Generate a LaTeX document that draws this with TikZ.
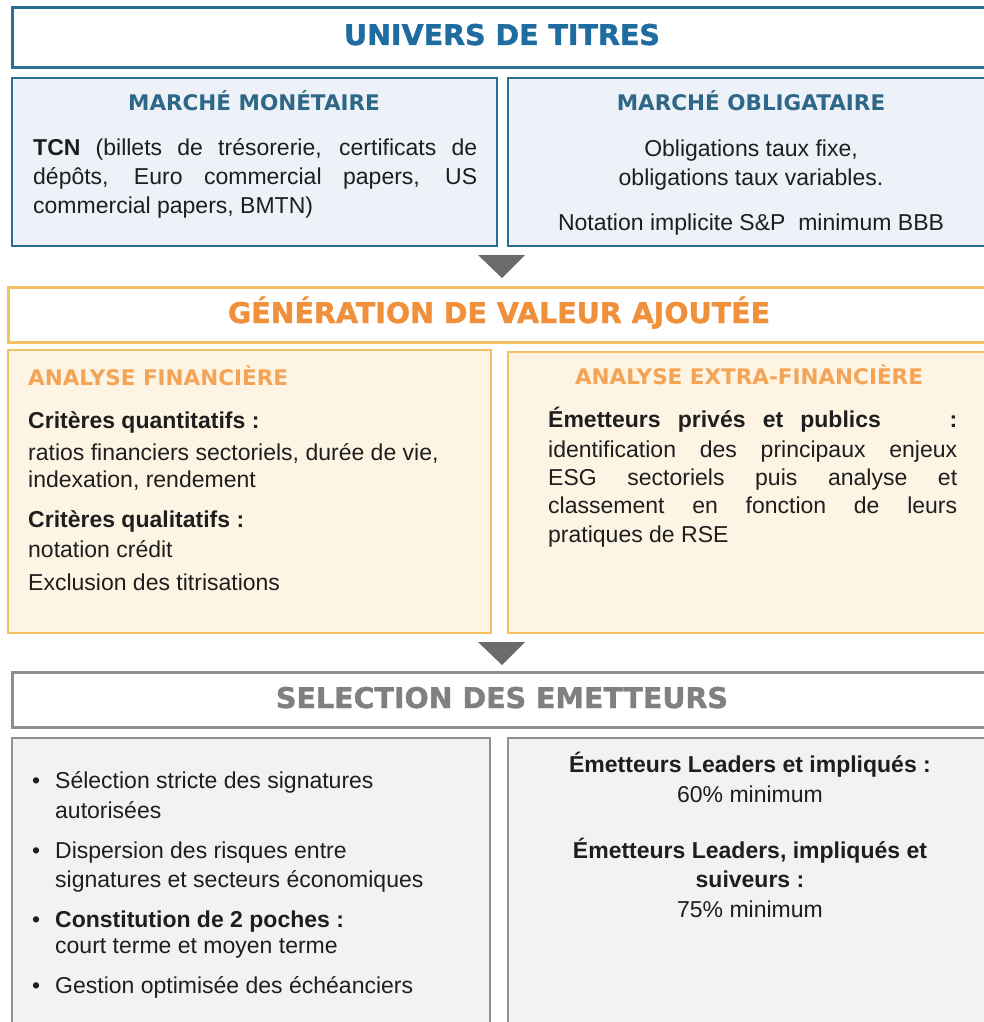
\documentclass[tikz,border=0pt]{standalone}
\usepackage{fontspec}
\setmainfont{Liberation Sans}
\newfontfamily\hdfont{DejaVu Sans}
\newfontfamily\ttlfont{DejaVu Sans}[BoldFeatures={FakeBold=1.4}]
\definecolor{bluebd}{HTML}{2A6F93}
\definecolor{bluefill}{HTML}{EDF2F8}
\definecolor{bluetitle}{HTML}{1F6CA0}
\definecolor{bluesub}{HTML}{2E6787}
\definecolor{orbd}{HTML}{F4C160}
\definecolor{orfill}{HTML}{FEF4E4}
\definecolor{ortitle}{HTML}{F0903A}
\definecolor{orsub}{HTML}{F3A456}
\definecolor{graybd}{HTML}{8F8F8F}
\definecolor{grayfill}{HTML}{F2F2F2}
\definecolor{graytitle}{HTML}{808080}
\definecolor{arrowgray}{HTML}{6B6B6B}
\definecolor{txtc}{HTML}{1E1E1E}
\tikzset{
  box/.style={anchor=north west, inner sep=0pt, outer sep=0pt},
  bluetop/.style={box, draw=bluebd, line width=3pt, fill=white},
  bluesubbox/.style={box, draw=bluebd, line width=2pt, fill=bluefill},
  ortop/.style={box, draw=orbd, line width=3pt, fill=white},
  orsubbox/.style={box, draw=orbd, line width=2.5pt, fill=orfill},
  graytop/.style={box, draw=graybd, line width=3pt, fill=white},
  graysubbox/.style={box, draw=graybd, line width=2pt, fill=grayfill},
  ttl/.style={anchor=base, inner sep=0pt, font=\ttlfont\bfseries\fontsize{28.5}{32}\selectfont},
  sub/.style={inner sep=0pt, font=\hdfont\bfseries\fontsize{21.5}{24}\selectfont},
  txt/.style={anchor=base west, inner sep=0pt, text=txtc, font=\fontsize{23}{29}\selectfont},
  ctxt/.style={anchor=base, inner sep=0pt, text=txtc, font=\fontsize{23}{29}\selectfont},
  arr/.style={fill=arrowgray, draw=none}
}
\begin{document}
\begin{tikzpicture}[x=1pt, y=-1pt]
\useasboundingbox (0,0) rectangle (984,1022);
\clip (0,0) rectangle (984,1022);
% ---------- top section ----------
\node[bluetop, minimum width=985pt, minimum height=60pt] (univ) at (12,8) {};
\node[ttl, text=bluetitle] (univT) at (502,45) {UNIVERS DE TITRES};
\node[bluesubbox, minimum width=485pt, minimum height=168pt] (mon) at (12,78) {};
\node[bluesubbox, minimum width=490pt, minimum height=168pt] (obl) at (508,78) {};
\node[sub, anchor=base, text=bluesub] (monT) at (254,111) {MARCHÉ MONÉTAIRE};
\node[sub, anchor=base, text=bluesub] (oblT) at (751,111) {MARCHÉ OBLIGATAIRE};
\node[txt] (m1) at (33,155) {\makebox[444pt][s]{\textbf{TCN} (billets de trésorerie, certificats de}};
\node[txt] (m2) at (33,184) {\makebox[444pt][s]{dépôts, Euro commercial papers, US}};
\node[txt] (m3) at (33,213) {commercial papers, BMTN)};
\node[ctxt] (o1) at (751,157) {Obligations taux fixe,};
\node[ctxt] (o2) at (751,185) {obligations taux variables.};
\node[ctxt] (o3) at (751,230) {Notation implicite S\&P\ \ minimum BBB};
\fill[arr] (478,255) -- (525,255) -- (502,278) -- cycle;
% ---------- middle section ----------
\node[ortop, minimum width=990pt, minimum height=55pt] (gen) at (8,287) {};
\node[ttl, text=ortitle] (genT) at (499,323) {GÉNÉRATION DE VALEUR AJOUTÉE};
\node[orsubbox, minimum width=483pt, minimum height=283pt] (fin) at (8,350) {};
\node[orsubbox, minimum width=490pt, minimum height=281pt] (ext) at (508,352) {};
\node[sub, anchor=base west, text=orsub] (finT) at (28,385) {ANALYSE FINANCIÈRE};
\node[sub, anchor=base, text=orsub] (extT) at (749,384) {ANALYSE EXTRA-FINANCIÈRE};
\node[txt] (f1) at (28,428) {\textbf{Critères quantitatifs :}};
\node[txt] (f2) at (28,460) {ratios financiers sectoriels, durée de vie,};
\node[txt] (f3) at (28,487) {indexation, rendement};
\node[txt] (f4) at (28,527) {\textbf{Critères qualitatifs :}};
\node[txt] (f5) at (28,557) {notation crédit};
\node[txt] (f6) at (28,590) {Exclusion des titrisations};
\node[txt] (e1) at (548,427) {\makebox[409pt][s]{\textbf{Émetteurs privés et publics \ \ \ :}}};
\node[txt] (e2) at (548,457) {\makebox[409pt][s]{identification des principaux enjeux}};
\node[txt] (e3) at (548,485) {\makebox[409pt][s]{ESG sectoriels puis analyse et}};
\node[txt] (e4) at (548,513) {\makebox[409pt][s]{classement en fonction de leurs}};
\node[txt] (e5) at (548,542) {pratiques de RSE};
\fill[arr] (478,642) -- (525,642) -- (502,665) -- cycle;
% ---------- bottom section ----------
\node[graytop, minimum width=985pt, minimum height=55pt] (sel) at (12,672) {};
\node[ttl, text=graytitle] (selT) at (502,708) {SELECTION DES EMETTEURS};
\node[graysubbox, minimum width=478pt, minimum height=300pt] (lft) at (12,738) {};
\node[graysubbox, minimum width=490pt, minimum height=300pt] (rgt) at (508,738) {};
\node[txt] (b1) at (32,788) {•};
\node[txt] (l1) at (55,788) {Sélection stricte des signatures};
\node[txt] (l2) at (55,818) {autorisées};
\node[txt] (b2) at (32,858) {•};
\node[txt] (l3) at (55,858) {Dispersion des risques entre};
\node[txt] (l4) at (55,887) {signatures et secteurs économiques};
\node[txt] (b3) at (32,927) {•};
\node[txt] (l5) at (55,927) {\textbf{Constitution de 2 poches :}};
\node[txt] (l6) at (55,953) {court terme et moyen terme};
\node[txt] (b4) at (32,993) {•};
\node[txt] (l7) at (55,993) {Gestion optimisée des échéanciers};
\node[ctxt] (r1) at (750,772) {\textbf{Émetteurs Leaders et impliqués :}};
\node[ctxt] (r2) at (750,802) {60\% minimum};
\node[ctxt] (r3) at (750,858) {\textbf{Émetteurs Leaders, impliqués et}};
\node[ctxt] (r4) at (750,887) {\textbf{suiveurs :}};
\node[ctxt] (r5) at (750,917) {75\% minimum};
\end{tikzpicture}
\end{document}
